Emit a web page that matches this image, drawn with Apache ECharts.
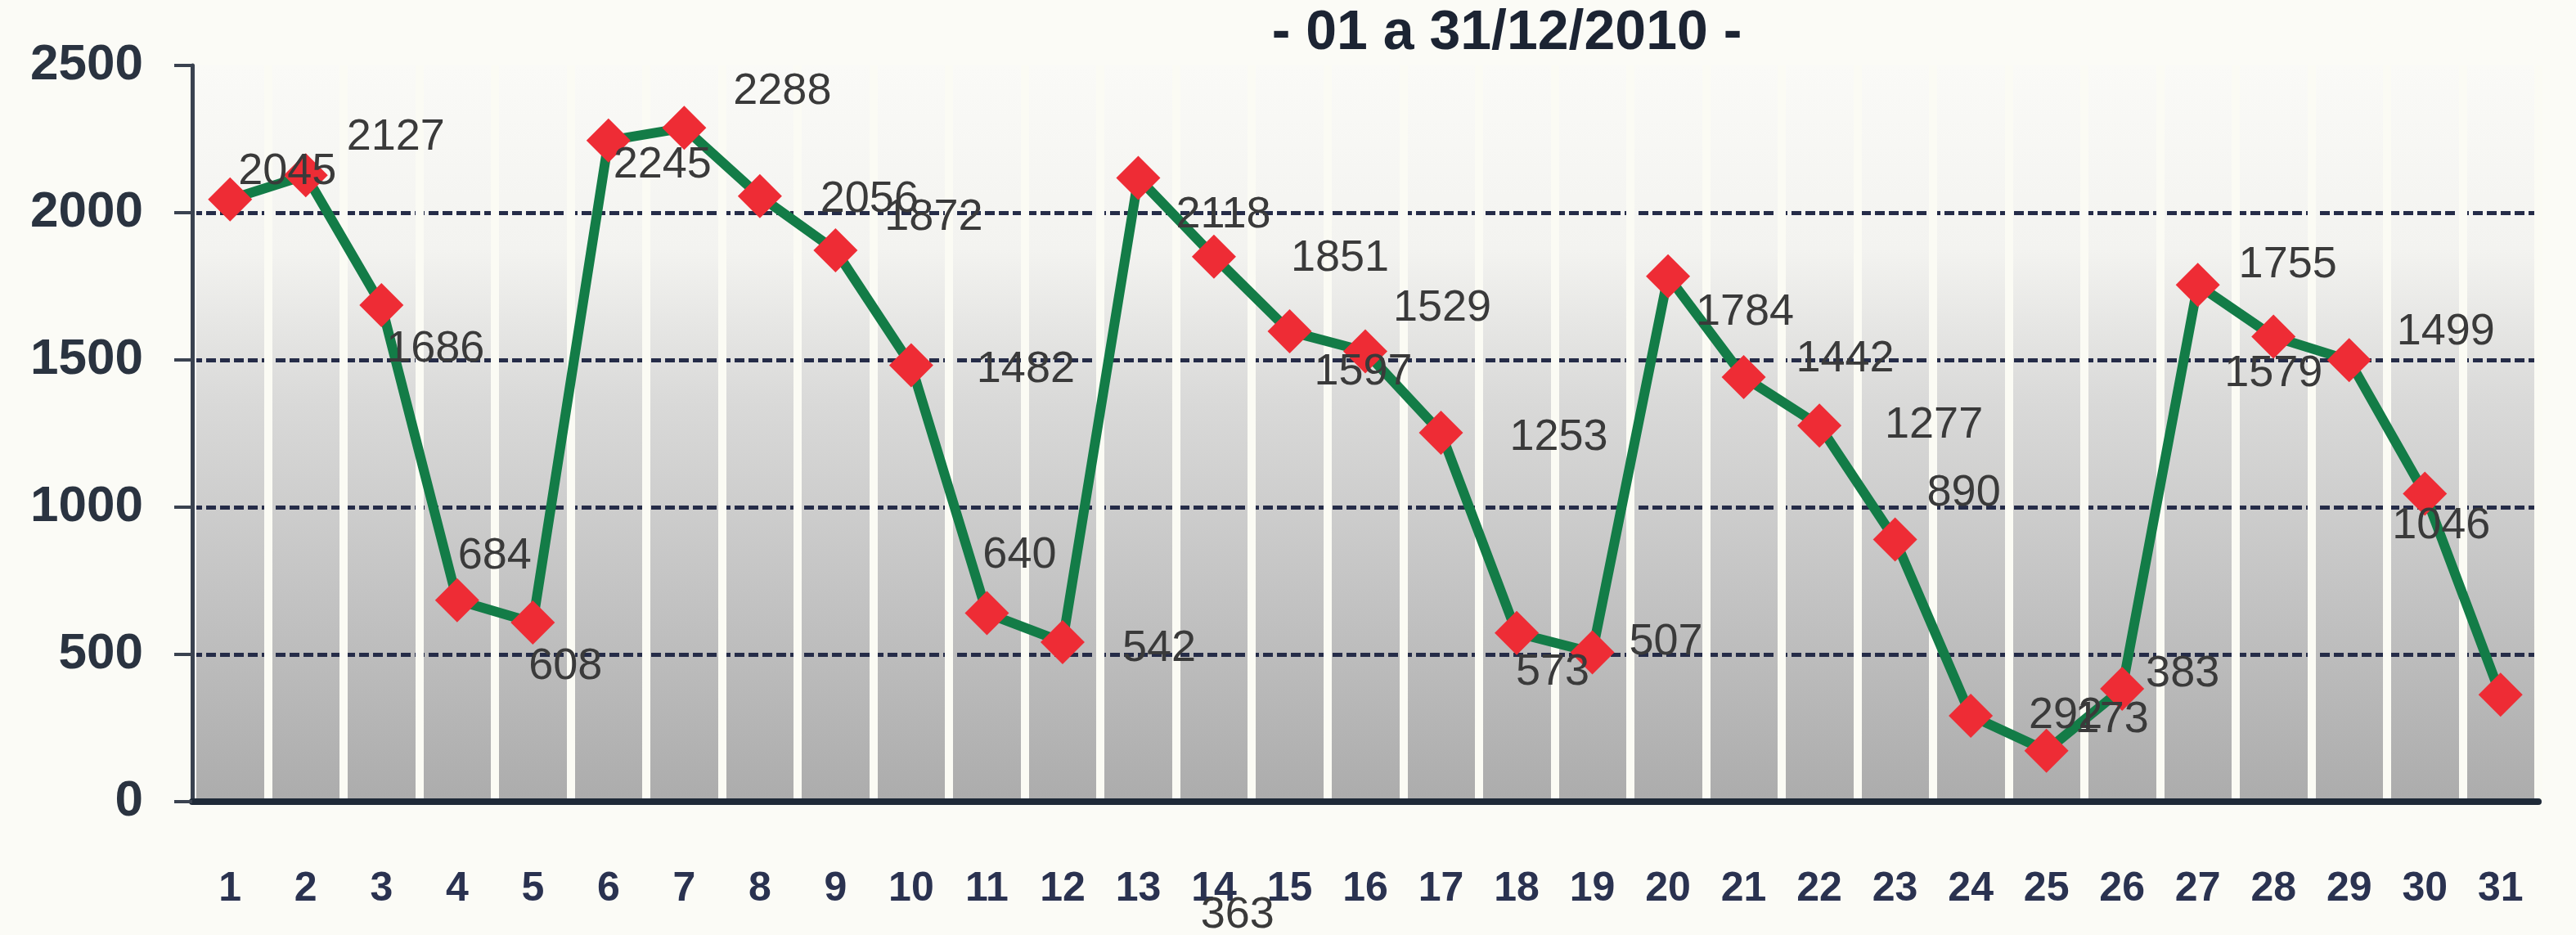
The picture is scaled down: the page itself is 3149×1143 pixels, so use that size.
<!DOCTYPE html>
<html>
<head>
<meta charset="utf-8">
<script src="https://cdn.jsdelivr.net/npm/echarts@6/dist/echarts.min.js"></script>
<style>
    html, body { margin: 0; padding: 0; background: #fbfbf6; }
    #chart { width: 3149px; height: 1143px; }
</style>
</head>
<body>
<div id="chart"></div>
<script>
// dias do mês (eixo x)
const days = ['1', '2', '3', '4', '5', '6', '7', '8', '9', '10', '11', '12', '13', '14', '15', '16',
    '17', '18', '19', '20', '21', '22', '23', '24', '25', '26', '27', '28', '29', '30', '31'];
// valores diários
const dailyValues = [2045, 2127, 1686, 684, 608, 2245, 2288, 2056, 1872, 1482, 640, 542, 2118, 1851, 1597, 1529,
    1253, 573, 507, 1784, 1442, 1277, 890, 292, 173, 383, 1755, 1579, 1499, 1046, 363];
// eixo y
const yMin = 0;
const yMax = 2500;
const yStep = 500;

// deslocamento dos rótulos (em px) em relação ao ponto, como no original
const labelShift = [
    [70, -34], [110, -46], [66, 54], [46, -54], [40, 54], [66, 30], [120, -44], [134, 4],
    [120, -40], [140, 6], [40, -70], [118, 8], [104, 46], [154, 2], [90, 50], [94, -52],
    [144, 6], [44, 48], [90, -12], [94, 44], [124, -22], [140, 0], [84, -56], [116, 0],
    [80, -38], [74, -18], [110, -24], [0, 46], [118, -34], [20, 40], [-1544, 270]
];

const chart = echarts.init(document.getElementById('chart'));

const seriesData = dailyValues.map(function (v, i) {
    return {
        value: v,
        label: { offset: labelShift[i] }
    };
});

const option = {
    backgroundColor: '#fbfbf6',
    animation: false,
    title: {
        text: '- 01 a 31/12/2010 -',
        left: 1837,
        top: 2,
        textAlign: 'center',
        textStyle: {
            fontFamily: 'Liberation Sans',
            fontWeight: 'bold',
            fontSize: 68,
            color: '#1c2433'
        }
    },
    grid: {
        left: 235,
        right: 46,
        top: 80,
        bottom: 163,
        show: true,
        borderWidth: 0,
        backgroundColor: {
            type: 'linear', x: 0, y: 0, x2: 0, y2: 1,
            colorStops: [
                { offset: 0, color: '#fafaf7' },
                { offset: 0.25, color: '#f3f3f0' },
                { offset: 0.45, color: '#dadad9' },
                { offset: 0.72, color: '#c3c3c3' },
                { offset: 1, color: '#acacac' }
            ]
        }
    },
    xAxis: {
        type: 'category',
        data: days,
        boundaryGap: true,
        axisLine: { lineStyle: { color: '#1f2a38', width: 8 } },
        axisTick: { length: 22, lineStyle: { color: '#1f2a38', width: 5 } },
        splitLine: { show: true, lineStyle: { color: '#fbfbf4', width: 10 } },
        axisLabel: {
            margin: 82,
            fontFamily: 'Liberation Sans',
            fontWeight: 'bold',
            fontSize: 50,
            color: '#2a3250'
        }
    },
    yAxis: {
        type: 'value',
        min: yMin,
        max: yMax,
        interval: yStep,
        axisLine: { show: true, lineStyle: { color: '#3a4250', width: 5 } },
        axisTick: { show: true, length: 22, lineStyle: { color: '#3a4250', width: 4 } },
        splitLine: {
            show: true,
            showMaxLine: false,
            lineStyle: { color: '#252c48', width: 5, type: [12, 5] }
        },
        axisLabel: {
            margin: 60,
            fontFamily: 'Liberation Sans',
            fontWeight: 'bold',
            fontSize: 62,
            color: '#2a3340',
            formatter: function (v) { return String(v); }
        }
    },
    series: [{
        name: 'Dezembro 2010',
        type: 'line',
        data: seriesData,
        symbol: 'diamond',
        symbolSize: 54,
        lineStyle: { color: '#137c47', width: 12 },
        itemStyle: { color: '#ee2c35' },
        label: {
            show: true,
            position: 'inside',
            fontFamily: 'Liberation Sans',
            fontSize: 54,
            color: '#3a3a3a'
        },
        z: 5
    }]
};

chart.setOption(option);
</script>
</body>
</html>
